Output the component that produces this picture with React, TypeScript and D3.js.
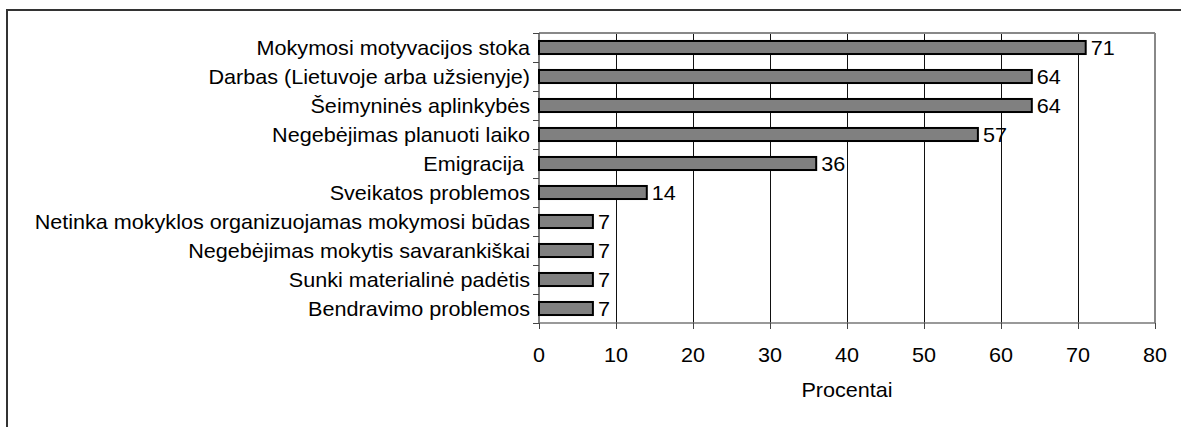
import React from "react";
import * as d3 from "d3";

const categories = [
  "Mokymosi motyvacijos stoka",
  "Darbas (Lietuvoje arba užsienyje)",
  "Šeimyninės aplinkybės",
  "Negebėjimas planuoti laiko",
  "Emigracija ",
  "Sveikatos problemos",
  "Netinka mokyklos organizuojamas mokymosi būdas",
  "Negebėjimas mokytis savarankiškai",
  "Sunki materialinė padėtis",
  "Bendravimo problemos",
];
const values = [71, 64, 64, 57, 36, 14, 7, 7, 7, 7];
const xTicks = [0, 10, 20, 30, 40, 50, 60, 70, 80];
const xTitle = "Procentai";

const W = 1181;
const H = 427;
const left = 539;
const right = 1155;
const top = 33;
const bottom = 323;
const font = "Liberation Sans, Arial, sans-serif";
const fs = 20;
const sx = 1.08;

function T({ x, y, anchor, children }: { x: number; y: number; anchor?: string; children: React.ReactNode }) {
  return (
    <text transform={`translate(${x},${y}) scale(${sx},1)`} textAnchor={anchor || "start"} fontSize={fs} fill="#000" dy="0.36em" style={{ whiteSpace: "pre" }}>
      {children}
    </text>
  );
}

export default function App() {
  const x = d3.scaleLinear().domain([0, 80]).range([left, right]);
  const y = d3.scaleBand<string>().domain(categories).range([top, bottom]).paddingInner(0.55).paddingOuter(0.275);
  const bandEdges = d3.range(categories.length + 1).map((i) => top + (i * (bottom - top)) / categories.length);
  return (
    <svg width={W} height={H} style={{ position: "absolute", left: 0, top: 0 }} fontFamily={font}>
      <rect x={0} y={0} width={W} height={H} fill="#fff" />
      <rect x={7} y={10} width={W + 20} height={H + 20} fill="none" stroke="#333" strokeWidth={2} />
      {xTicks.slice(1, -1).map((t) => (
        <line key={"g" + t} x1={x(t) + 0.5} x2={x(t) + 0.5} y1={top} y2={bottom} stroke="#111" strokeWidth={1} />
      ))}
      <line x1={left} x2={right} y1={top} y2={top} stroke="#888" strokeWidth={2} />
      <line x1={right} x2={right} y1={top} y2={bottom} stroke="#888" strokeWidth={2} />
      <line x1={left} x2={left} y1={top} y2={bottom} stroke="#555" strokeWidth={1.5} />
      <line x1={left} x2={right} y1={bottom} y2={bottom} stroke="#777" strokeWidth={1.5} />
      {bandEdges.map((e, i) => (
        <line key={"yt" + i} x1={left - 6} x2={left} y1={Math.round(e) + 0.5} y2={Math.round(e) + 0.5} stroke="#444" strokeWidth={1} />
      ))}
      {xTicks.map((t) => (
        <g key={"xt" + t}>
          <line x1={x(t) + 0.5} x2={x(t) + 0.5} y1={bottom} y2={bottom + 6} stroke="#444" strokeWidth={1} />
          <T x={x(t)} y={bottom + 32} anchor="middle">{t}</T>
        </g>
      ))}
      {categories.map((c, i) => (
        <g key={c}>
          <rect x={x(0)} y={y(c)!} width={x(values[i]) - x(0)} height={y.bandwidth()} fill="#808080" stroke="#000" strokeWidth={2} />
          <T x={left - 9} y={y(c)! + y.bandwidth() / 2} anchor="end">{c}</T>
          <T x={x(values[i]) + 5} y={y(c)! + y.bandwidth() / 2}>{values[i]}</T>
        </g>
      ))}
      <T x={(left + right) / 2} y={bottom + 67} anchor="middle">{xTitle}</T>
    </svg>
  );
}
